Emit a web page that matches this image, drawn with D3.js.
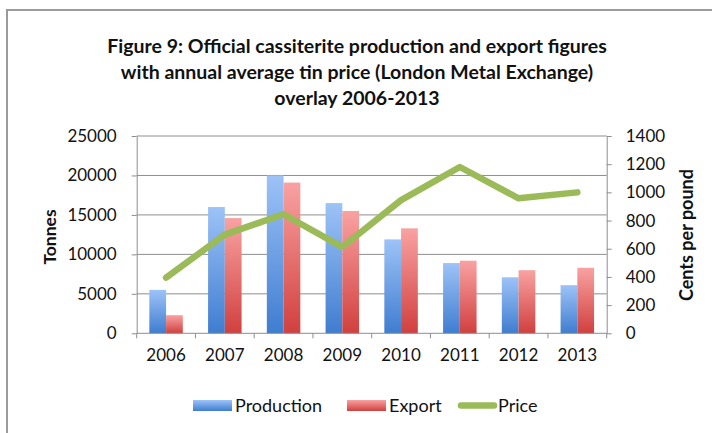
<!DOCTYPE html>
<html>
<head>
<meta charset="utf-8">
<script src="https://cdn.jsdelivr.net/npm/d3@7"></script>
<style>
  body { margin: 0; background: #fff; }
  svg { display: block; font-family: Lato, "Open Sans", sans-serif; }
</style>
</head>
<body>
<svg width="712" height="433"></svg>
<script>
// data
const years = ['2006', '2007', '2008', '2009', '2010', '2011', '2012', '2013'];
const production = [5500, 16000, 20000, 16500, 11900, 8900, 7100, 6100];
const exportTonnes = [2300, 14600, 19100, 15500, 13300, 9200, 8000, 8300];
const price = [395, 700, 845, 612, 945, 1180, 958, 1000];
const leftTicks = [0, 5000, 10000, 15000, 20000, 25000];
const rightTicks = [0, 200, 400, 600, 800, 1000, 1200, 1400];
const titleLines = [
  'Figure 9: Official cassiterite production and export figures',
  'with annual average tin price (London Metal Exchange)',
  'overlay 2006-2013'
];

const svg = d3.select('svg');
const plot = { left: 136.7, right: 606.7, top: 136, bottom: 333.3 };

// gradients like the old excel bars
const defs = svg.append('defs');
const grad = (id, top, bottom) => {
  const g = defs.append('linearGradient').attr('id', id)
    .attr('x1', 0).attr('y1', 0).attr('x2', 0).attr('y2', 1);
  g.append('stop').attr('offset', '0%').attr('stop-color', top);
  g.append('stop').attr('offset', '100%').attr('stop-color', bottom);
};
grad('blueGrad', '#9dc3f7', '#3f7dd0');
grad('redGrad', '#f9a2a2', '#d0403e');

// outer frame (only top and left visible)
svg.append('path')
  .attr('d', 'M7,433 L7,10 L712,10')
  .attr('fill', 'none')
  .attr('stroke', '#9a9a9a')
  .attr('stroke-width', 2);

// title
svg.append('g').selectAll('text')
  .data(titleLines)
  .join('text')
    .attr('x', 357)
    .attr('y', (d, i) => 53 + i * 26)
    .attr('text-anchor', 'middle')
    .attr('font-size', 19.5)
    .attr('font-weight', 'bold')
    .attr('fill', '#111')
    .text(d => d);

const x0 = d3.scaleBand().domain(years).range([plot.left, plot.right])
  .paddingInner(0.43).paddingOuter(0.215);
const x1 = d3.scaleBand().domain(['production', 'export']).range([0, x0.bandwidth()]);
const yLeft = d3.scaleLinear().domain([0, 25000]).range([plot.bottom, plot.top]);
const yRight = d3.scaleLinear().domain([0, 1400]).range([plot.bottom, plot.top]);

// gridlines
svg.append('g').selectAll('line')
  .data(leftTicks.slice(1))
  .join('line')
    .attr('x1', plot.left).attr('x2', plot.right)
    .attr('y1', d => yLeft(d)).attr('y2', d => yLeft(d))
    .attr('stroke', '#8e8e8e').attr('stroke-width', 1);

// bars
const groups = svg.append('g').selectAll('g')
  .data(years)
  .join('g')
    .attr('transform', d => `translate(${x0(d)},0)`);

groups.append('rect')
  .attr('x', x1('production'))
  .attr('y', (d, i) => yLeft(production[i]))
  .attr('width', x1.bandwidth())
  .attr('height', (d, i) => plot.bottom - yLeft(production[i]))
  .attr('fill', 'url(#blueGrad)');

groups.append('rect')
  .attr('x', x1('export'))
  .attr('y', (d, i) => yLeft(exportTonnes[i]))
  .attr('width', x1.bandwidth())
  .attr('height', (d, i) => plot.bottom - yLeft(exportTonnes[i]))
  .attr('fill', 'url(#redGrad)');

// axes
const axisStyle = g => {
  g.selectAll('.domain').attr('stroke', '#8e8e8e');
  g.selectAll('.tick line').attr('stroke', '#8e8e8e');
  g.selectAll('.tick text').attr('fill', '#111').attr('font-size', 17)
    .attr('font-family', 'Lato, sans-serif');
};

svg.append('g')
  .attr('transform', `translate(${plot.left},0)`)
  .call(d3.axisLeft(yLeft).tickValues(leftTicks).tickFormat(d3.format('d'))
    .tickSizeInner(5).tickSizeOuter(0).tickPadding(15))
  .call(axisStyle);

svg.append('g')
  .attr('transform', `translate(${plot.right},0)`)
  .call(d3.axisRight(yRight).tickValues(rightTicks).tickFormat(d3.format('d'))
    .tickSizeInner(5).tickSizeOuter(0).tickPadding(14))
  .call(axisStyle);

// bottom axis: ticks sit between categories
const xb = d3.axisBottom(x0).tickSize(0).tickPadding(16);
svg.append('g')
  .attr('transform', `translate(0,${plot.bottom})`)
  .call(xb)
  .call(axisStyle)
  .call(g => g.select('.domain').attr('d', `M${plot.left},0H${plot.right}`));

const step = x0.step();
svg.append('g').selectAll('line')
  .data(d3.range(years.length + 1))
  .join('line')
    .attr('x1', i => plot.left + i * step).attr('x2', i => plot.left + i * step)
    .attr('y1', plot.bottom).attr('y2', plot.bottom + 5)
    .attr('stroke', '#8e8e8e');

// price line
const line = d3.line()
  .x((d, i) => x0(years[i]) + x0.bandwidth() / 2)
  .y(d => yRight(d));

svg.append('path')
  .datum(price)
  .attr('d', line)
  .attr('fill', 'none')
  .attr('stroke', '#9bbb59')
  .attr('stroke-width', 6.5)
  .attr('stroke-linejoin', 'round')
  .attr('stroke-linecap', 'round');

// axis titles
svg.append('text')
  .attr('transform', 'translate(56,237) rotate(-90)')
  .attr('text-anchor', 'middle')
  .attr('font-size', 17.5).attr('font-weight', 'bold').attr('fill', '#111')
  .text('Tonnes');

svg.append('text')
  .attr('transform', 'translate(693,235) rotate(-90)')
  .attr('text-anchor', 'middle')
  .attr('font-size', 18).attr('font-weight', 'bold').attr('fill', '#111')
  .text('Cents per pound');

// legend
const legend = svg.append('g').attr('font-size', 18).attr('fill', '#111');
legend.append('rect').attr('x', 193).attr('y', 400).attr('width', 39).attr('height', 11)
  .attr('fill', 'url(#blueGrad)');
legend.append('text').attr('x', 235).attr('y', 412).text('Production');
legend.append('rect').attr('x', 347).attr('y', 400).attr('width', 39).attr('height', 11)
  .attr('fill', 'url(#redGrad)');
legend.append('text').attr('x', 389).attr('y', 412).text('Export');
legend.append('line').attr('x1', 461).attr('x2', 494).attr('y1', 405.5).attr('y2', 405.5)
  .attr('stroke', '#9bbb59').attr('stroke-width', 6.5).attr('stroke-linecap', 'round');
legend.append('text').attr('x', 498).attr('y', 412).text('Price');
</script>
</body>
</html>
